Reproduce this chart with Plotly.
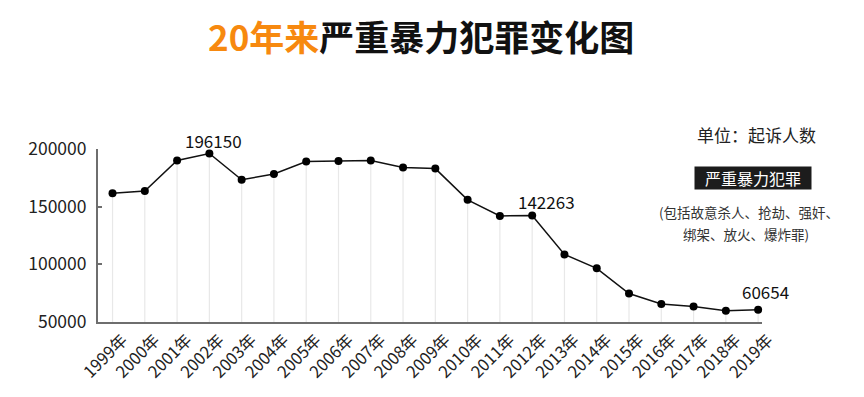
import plotly.graph_objects as go

years = ["1999年", "2000年", "2001年", "2002年", "2003年", "2004年", "2005年", "2006年",
         "2007年", "2008年", "2009年", "2010年", "2011年", "2012年", "2013年", "2014年",
         "2015年", "2016年", "2017年", "2018年", "2019年"]
cases = [161700, 163500, 190100, 196150, 173300, 178300, 189200, 189600,
         190100, 184000, 183000, 155900, 142000, 142263, 108600, 96500,
         74700, 65600, 63400, 59800, 60654]
labeled_years = ["2002年", "2012年", "2019年"]
label_shift = [(4, 13), (14, 14), (7, 18)]
y_ticks = [50000, 100000, 150000, 200000]

OFF = 8            # page body margin
W, H = 864 - OFF, 397 - OFF
L, R, T, B = 90, 102, 141, 75
PW, PH = W - L - R, H - T - B
FONT = "Noto Sans CJK SC, Noto Sans, sans-serif"

fig = go.Figure()

# drop lines from axis to each point
dx, dy = [], []
for yr, v in zip(years, cases):
    dx += [yr, yr, None]
    dy += [y_ticks[0], v, None]
fig.add_trace(go.Scatter(x=dx, y=dy, mode="lines",
                         line=dict(color="#e8e8e8", width=1.2),
                         hoverinfo="skip", showlegend=False))

fig.add_trace(go.Scatter(x=years, y=cases, mode="lines+markers",
                         line=dict(color="#111111", width=1.5),
                         marker=dict(color="#000000", size=8),
                         cliponaxis=False, showlegend=False))

annotations = []
for yr, (sx, sy) in zip(labeled_years, label_shift):
    v = cases[years.index(yr)]
    annotations.append(dict(x=yr, y=v, xref="x", yref="y", text=str(v),
                            showarrow=False, xshift=sx, yshift=sy,
                            font=dict(size=17, color="#111111", family=FONT)))

def px(x, y):
    # screen pixel -> paper (plot-area) coordinates
    return (x - OFF - L) / PW, (H - B + OFF - y) / PH

def note(x, y, text, **kw):
    a, b = px(x, y)
    d = dict(x=a, y=b, xref="paper", yref="paper", text=text, showarrow=False,
             xanchor="center", yanchor="middle")
    d.update(kw)
    annotations.append(d)

note(756, 135, "单位：起诉人数", font=dict(size=17, color="#222222", family=FONT))
note(753, 178, "严重暴力犯罪", bgcolor="#1c1c1c", width=112, height=18, borderpad=2,
     font=dict(size=16, color="#ffffff", family=FONT))
note(749, 212, "(包括故意杀人、抢劫、强奸、", font=dict(size=13.5, color="#333333", family=FONT))
note(746, 234, "绑架、放火、爆炸罪)", font=dict(size=13.5, color="#333333", family=FONT))
note(421, 35, "<b><span style='color:#F7890F'>20年来</span>严重暴力犯罪变化图</b>",
     font=dict(size=35, color="#111111", family=FONT))

fig.update_layout(
    width=W, height=H,
    margin=dict(l=L, r=R, t=T, b=B),
    paper_bgcolor="white", plot_bgcolor="white",
    font=dict(family=FONT, color="#222222"),
    annotations=annotations,
    xaxis=dict(type="category", range=[-0.45, 20.12], showgrid=False,
               showline=True, linecolor="#6e6e6e", linewidth=2,
               ticks="", tickangle=-45, tickfont=dict(size=16.5, color="#222222"),
               ticklabelshift=10, zeroline=False),
    yaxis=dict(range=[y_ticks[0], y_ticks[-1]], tickvals=y_ticks,
               ticktext=[str(t) for t in y_ticks], showgrid=False,
               showline=True, linecolor="#6e6e6e", linewidth=2,
               ticks="inside", ticklen=4, tickcolor="#6e6e6e", tickwidth=1.5,
               ticklabelstandoff=6,
               tickfont=dict(size=17.5, color="#222222"), zeroline=False),
)

fig.write_html("out.html")
